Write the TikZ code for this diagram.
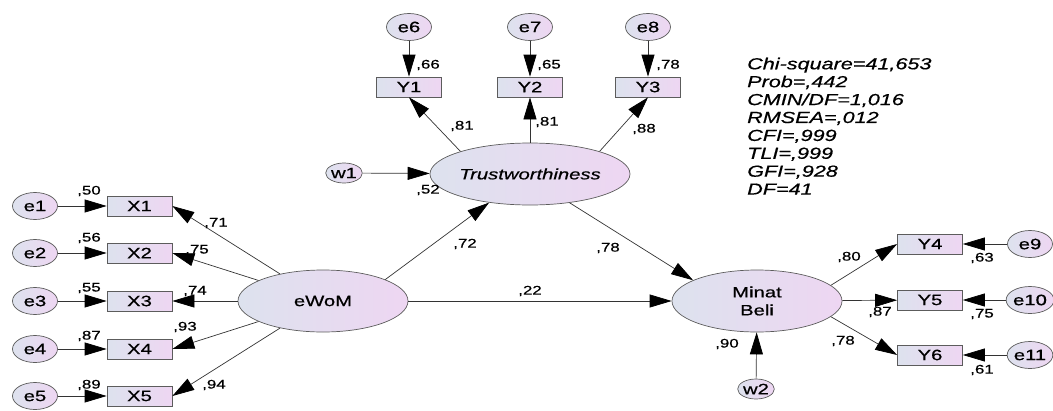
\documentclass[tikz,border=0pt]{standalone}
\usepackage{fontspec}
\setmainfont{Liberation Sans}[FakeStretch=1.35,FakeBold=0.6]
\usetikzlibrary{arrows.meta,shapes.geometric}
\definecolor{lblue}{HTML}{DDE2EE}
\definecolor{lpink}{HTML}{EED6F2}
\definecolor{edgegray}{HTML}{333333}
\newcommand{\BoxX}{139.5}
\newcommand{\ErrX}{35}

\begin{document}
\begin{tikzpicture}[x=1pt, y=-1pt,
  latent/.style={ellipse, draw=edgegray!80, line width=0.7pt, left color=lblue, right color=lpink,
    minimum width=170pt, minimum height=62pt, inner sep=0pt, align=center, font=\fontsize{15}{18}\selectfont},
  obs/.style={rectangle, draw=edgegray!80, line width=0.7pt, left color=lblue, right color=lpink,
    minimum width=65pt, minimum height=20pt, inner sep=0pt, font=\fontsize{15}{18}\selectfont},
  err/.style={ellipse, draw=edgegray!80, line width=0.7pt, left color=lblue, right color=lpink,
    minimum width=45pt, minimum height=27pt, inner sep=0pt, font=\fontsize{15}{18}\selectfont},
  dist/.style={err, minimum width=35pt, minimum height=20pt},
  path/.style={draw=edgegray, line width=0.7pt, -{Triangle[length=22pt,width=13pt,color=black]}},
  coef/.style={inner sep=0pt, font=\fontsize{12.5}{14}\selectfont}]

\useasboundingbox (0,0) rectangle (1053,410);

\node[latent] (ewom) at (323,301) {eWoM};
\node[latent] (trust) at (530,174) {\itshape Trustworthiness};
\node[latent] (minat) at (757,301) {Minat\\Beli};

\node[obs] (x1) at (\BoxX,206) {X1};
\node[obs] (x2) at (\BoxX,253) {X2};
\node[obs] (x3) at (\BoxX,301) {X3};
\node[obs] (x4) at (\BoxX,349) {X4};
\node[obs] (x5) at (\BoxX,396) {X5};
\node[err] (e1) at (\ErrX,206) {e1};
\node[err] (e2) at (\ErrX,253) {e2};
\node[err] (e3) at (\ErrX,301) {e3};
\node[err] (e4) at (\ErrX,349) {e4};
\node[err] (e5) at (\ErrX,396) {e5};

\node[obs] (y1) at (409,87) {Y1};
\node[obs] (y2) at (530,87) {Y2};
\node[obs] (y3) at (648,87) {Y3};
\node[err] (e6) at (409,27) {e6};
\node[err] (e7) at (530,27) {e7};
\node[err] (e8) at (648,27) {e8};

\node[obs] (y4) at (930,244) {Y4};
\node[obs] (y5) at (930,300) {Y5};
\node[obs] (y6) at (930,355) {Y6};
\node[err] (e9) at (1030,244) {e9};
\node[err] (e10) at (1030,300) {e10};
\node[err] (e11) at (1030,355) {e11};

\node[dist] (w1) at (344,173) {w1};
\node[dist] (w2) at (756,389) {w2};

\draw[path] (e1) -- (x1);
\draw[path] (e2) -- (x2);
\draw[path] (e3) -- (x3);
\draw[path] (e4) -- (x4);
\draw[path] (e5) -- (x5);
\draw[path] (ewom) -- (x1.east);
\draw[path] (ewom) -- (x2.east);
\draw[path] (ewom) -- (x3.east);
\draw[path] (ewom) -- (x4.east);
\draw[path] (ewom) -- (x5.east);

\draw[path] (e6) -- (y1);
\draw[path] (e7) -- (y2);
\draw[path] (e8) -- (y3);
\draw[path] (trust.162) -- (y1.south);
\draw[path] (trust) -- (y2);
\draw[path] (trust.18) -- (y3.south);
\draw[path] (w1) -- (trust);

\draw[path] (ewom.19) -- (trust.215);
\draw[path] (trust.-36) -- (minat.162);
\draw[path] (ewom) -- (minat);
\draw[path] (w2) -- (minat);

\draw[path] (minat.12) -- (y4.west);
\draw[path] (minat) -- (y5);
\draw[path] (minat.-12) -- (y6.west);
\draw[path] (e9) -- (y4);
\draw[path] (e10) -- (y5);
\draw[path] (e11) -- (y6);

\node[coef] (r1) at (89,191) {,50};
\node[coef] (r2) at (89,238) {,56};
\node[coef] (r3) at (89,288) {,55};
\node[coef] (r4) at (89,336) {,87};
\node[coef] (r5) at (89,385) {,89};
\node[coef] (l1) at (216,223) {,71};
\node[coef] (l2) at (197,250) {,75};
\node[coef] (l3) at (195,291) {,74};
\node[coef] (l4) at (185,327) {,93};
\node[coef] (l5) at (214,385) {,94};

\node[coef] (r6) at (428,65) {,66};
\node[coef] (r7) at (549,65) {,65};
\node[coef] (r8) at (668,65) {,78};
\node[coef] (l6) at (462,126) {,81};
\node[coef] (l7) at (547,122) {,81};
\node[coef] (l8) at (644,129) {,88};
\node[coef] (rt) at (428,190) {,52};

\node[coef] (b1) at (465,244) {,72};
\node[coef] (b2) at (608,248) {,78};
\node[coef] (b3) at (530,291) {,22};
\node[coef] (rm) at (727,344) {,90};

\node[coef] (l9) at (849,257) {,80};
\node[coef] (l10) at (880,312) {,87};
\node[coef] (l11) at (843,341) {,78};
\node[coef] (r9) at (982,258) {,63};
\node[coef] (r10) at (982,314) {,75};
\node[coef] (r11) at (982,370) {,61};

\node[anchor=north west, inner sep=0pt, align=left, font=\fontsize{16}{17.9}\selectfont\itshape] (fit) at (747,57.5)
  {Chi-square=41,653\\Prob=,442\\CMIN/DF=1,016\\RMSEA=,012\\CFI=,999\\TLI=,999\\GFI=,928\\DF=41};

\end{tikzpicture}
\end{document}
